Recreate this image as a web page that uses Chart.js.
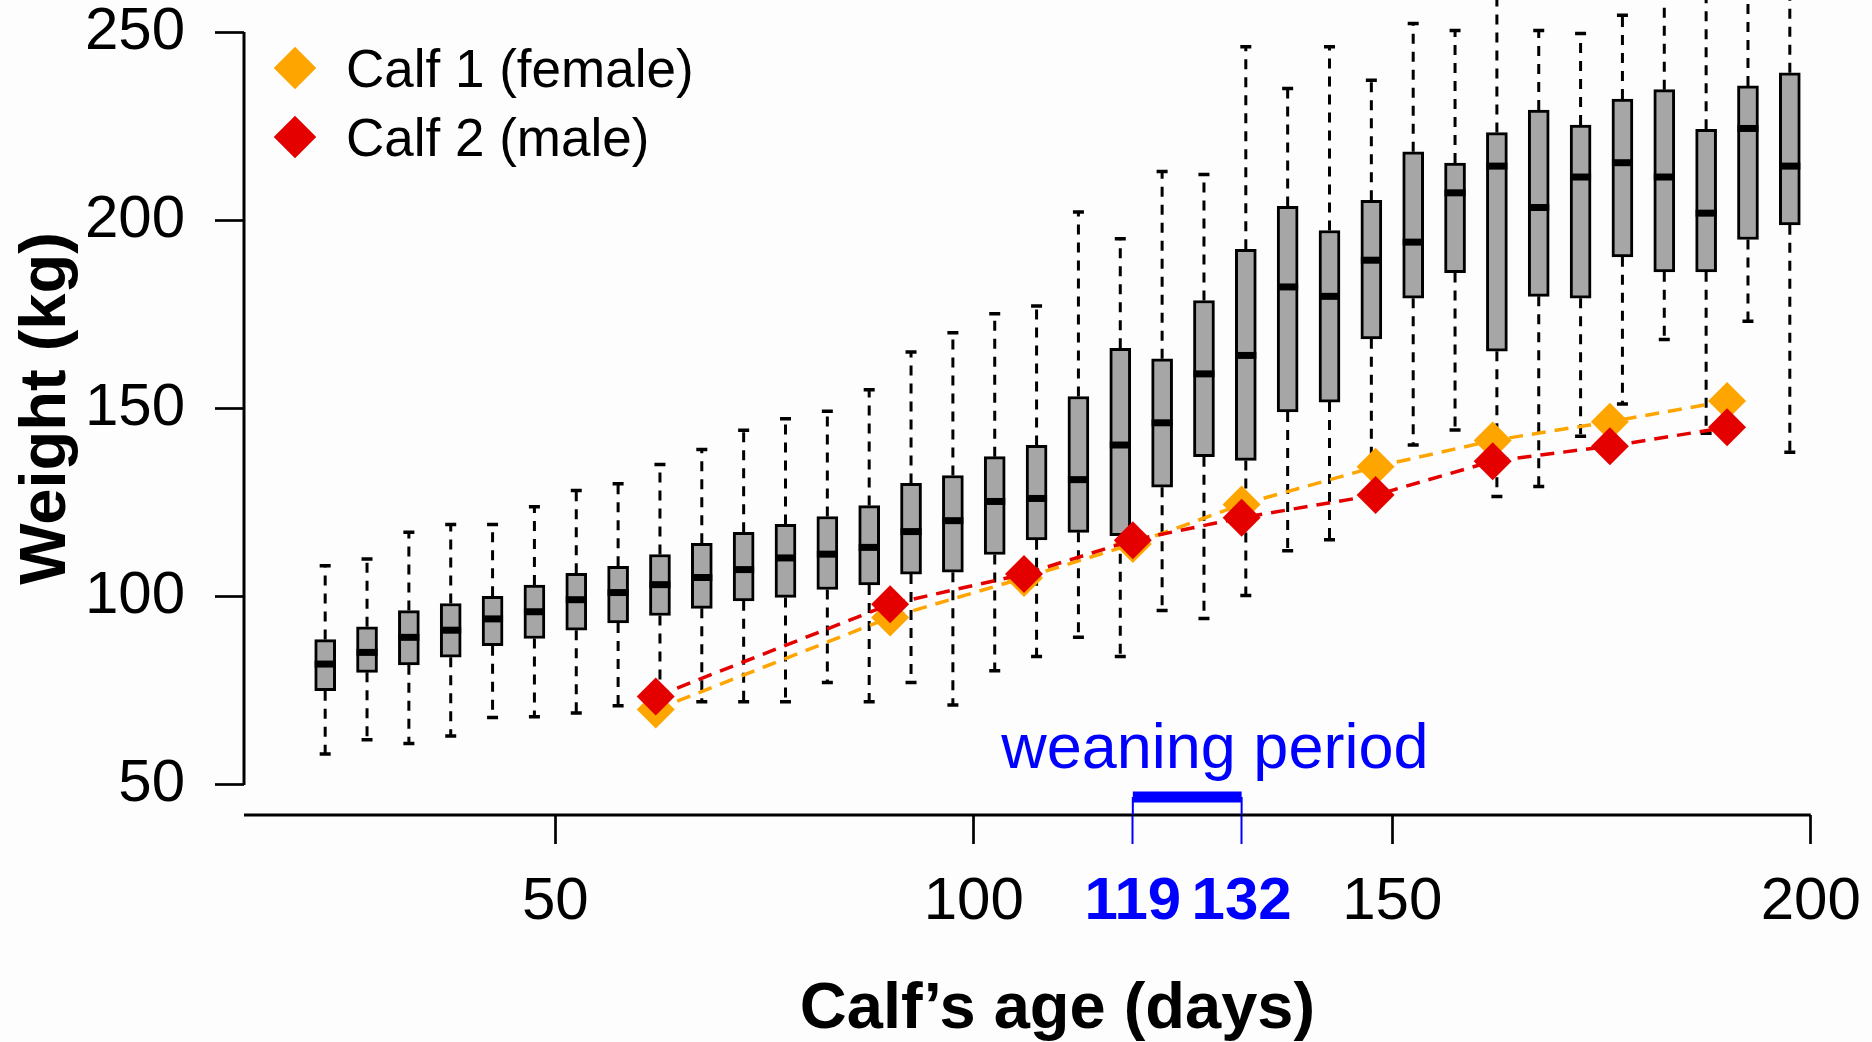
<!DOCTYPE html>
<html>
<head>
<meta charset="utf-8">
<title>Calf weight by age</title>
<script src="https://cdn.jsdelivr.net/npm/chart.js@4.4.1/dist/chart.umd.min.js"></script>
<style>
  html, body { margin: 0; padding: 0; background: #fdfdfd; }
  canvas { display: block; }
</style>
</head>
<body>
<canvas id="calfChart" width="1872" height="1042"></canvas>
<script>
// herd reference: weight distribution per 5-day age class
const ageDays = [22.5, 27.5, 32.5, 37.5, 42.5, 47.5, 52.5, 57.5, 62.5, 67.5, 72.5, 77.5,
                 82.5, 87.5, 92.5, 97.5, 102.5, 107.5, 112.5, 117.5, 122.5, 127.5, 132.5, 137.5,
                 142.5, 147.5, 152.5, 157.5, 162.5, 167.5, 172.5, 177.5, 182.5, 187.5, 192.5, 197.5];
const whiskerLow = [58.2, 62.0, 61.0, 63.0, 67.9, 68.1, 69.1, 71.0, 71.5, 72.1, 72.1, 72.1,
                    77.2, 72.1, 77.2, 71.2, 80.3, 84.1, 89.2, 84.1, 96.3, 94.2, 100.3, 112.2,
                    115.1, 133.0, 140.3, 144.3, 126.6, 129.3, 142.6, 151.2, 168.3, 143.4, 173.2, 138.4];
const q1 = [75.0, 79.9, 81.9, 83.9, 87.0, 88.9, 91.1, 93.0, 95.0, 96.9, 98.9, 99.8,
            101.9, 103.1, 106.0, 106.5, 111.2, 115.1, 117.1, 116.2, 129.1, 137.2, 136.2, 149.1,
            151.7, 168.5, 179.3, 186.1, 165.2, 179.8, 179.3, 190.3, 186.3, 186.3, 194.9, 198.8];
const median = [82.1, 85.2, 89.2, 91.1, 94.1, 96.0, 99.2, 101.1, 103.2, 105.1, 107.2, 110.3,
                111.3, 113.1, 117.3, 120.2, 125.3, 126.1, 131.1, 140.3, 146.2, 159.2, 164.1, 182.3,
                179.8, 189.4, 194.2, 207.3, 214.4, 203.4, 211.5, 215.3, 211.5, 201.9, 224.4, 214.4];
const q3 = [88.6, 92.0, 96.3, 98.2, 100.1, 103.1, 106.2, 108.1, 111.2, 114.2, 117.1, 119.2,
            121.3, 124.2, 130.1, 132.2, 137.2, 140.2, 153.2, 166.0, 163.2, 178.7, 192.3, 203.7,
            197.3, 205.3, 218.2, 215.2, 223.3, 229.3, 225.3, 232.2, 234.7, 224.2, 235.7, 239.2];
const whiskerHigh = [108.2, 110.0, 117.1, 119.2, 119.2, 123.9, 128.2, 130.0, 135.1, 139.1, 144.2, 147.3,
                     149.3, 155.0, 165.0, 170.1, 175.2, 177.2, 202.2, 195.1, 213.0, 212.2, 246.1, 235.0,
                     246.1, 237.2, 252.3, 250.4, 262.0, 250.4, 249.6, 254.5, 264.0, 262.0, 266.0, 268.0];

// the two followed calves
const calfDays = [62, 90, 106, 119, 132, 148, 162, 176, 190];
const calf1Weight = [70.0, 94.5, 105.0, 114.0, 124.5, 134.5, 141.5, 146.5, 152.0];
const calf2Weight = [73.5, 98.0, 106.0, 115.0, 121.0, 127.0, 136.0, 140.0, 145.0];
const calfNames = ['Calf 1 (female)', 'Calf 2 (male)'];

const xTicks = [50, 100, 119, 132, 150, 200];
const yTicks = [50, 100, 150, 200, 250];
const weaningDays = [119, 132];
const weaningLabel = 'weaning period';

const FONT = "'Liberation Sans', Arial, Helvetica, sans-serif";
const BLUE = '#0000ff';
const ORANGE = '#ffa500';
const RED = '#e50000';

// scriptable options also get called without a tick, so guard for that
const isWeaningTick = ctx => !!ctx.tick && weaningDays.includes(ctx.tick.value);

// whiskers + staples go under everything, medians right after the boxes
const boxWhiskers = {
  id: 'boxWhiskers',
  beforeDatasetsDraw(chart) {
    const { ctx, scales: { x, y } } = chart;
    ctx.save();
    ctx.strokeStyle = '#000';
    ageDays.forEach((d, i) => {
      const px = x.getPixelForValue(d);
      ctx.lineWidth = 3;
      ctx.setLineDash([10, 8]);
      ctx.beginPath();
      ctx.moveTo(px, y.getPixelForValue(q3[i]));
      ctx.lineTo(px, y.getPixelForValue(whiskerHigh[i]));
      ctx.stroke();
      ctx.beginPath();
      ctx.moveTo(px, y.getPixelForValue(q1[i]));
      ctx.lineTo(px, y.getPixelForValue(whiskerLow[i]));
      ctx.stroke();
      ctx.setLineDash([]);
      ctx.lineWidth = 3.5;
      ctx.beginPath();
      [whiskerHigh[i], whiskerLow[i]].forEach(v => {
        const py = y.getPixelForValue(v);
        ctx.moveTo(px - 5.5, py);
        ctx.lineTo(px + 5.5, py);
      });
      ctx.stroke();
    });
    ctx.restore();
  },
  afterDatasetDraw(chart, args) {
    if (args.meta.type !== 'bar') return;
    const { ctx, scales: { x, y } } = chart;
    ctx.save();
    ctx.strokeStyle = '#000';
    ctx.lineWidth = 7;
    ageDays.forEach((d, i) => {
      const px = x.getPixelForValue(d);
      const py = y.getPixelForValue(median[i]);
      ctx.beginPath();
      ctx.moveTo(px - 10.5, py);
      ctx.lineTo(px + 10.5, py);
      ctx.stroke();
    });
    ctx.restore();
  }
};

// axis lines, titles, legend and the weaning label
const decorations = {
  id: 'decorations',
  afterDraw(chart) {
    const { ctx, chartArea, scales: { x, y } } = chart;
    ctx.save();

    ctx.strokeStyle = '#000';
    ctx.lineWidth = 3;
    ctx.beginPath();
    ctx.moveTo(chartArea.left, y.getPixelForValue(yTicks[0]));
    ctx.lineTo(chartArea.left, y.getPixelForValue(yTicks[yTicks.length - 1]));
    ctx.moveTo(chartArea.left, chartArea.bottom);
    ctx.lineTo(x.getPixelForValue(200), chartArea.bottom);
    ctx.stroke();

    // blue drop lines from the weaning bar to the axis
    ctx.strokeStyle = BLUE;
    ctx.lineWidth = 2;
    ctx.beginPath();
    weaningDays.forEach(d => {
      const px = x.getPixelForValue(d);
      ctx.moveTo(px, y.getPixelForValue(46.8));
      ctx.lineTo(px, chartArea.bottom);
    });
    ctx.stroke();

    ctx.fillStyle = BLUE;
    ctx.font = `63px ${FONT}`;
    ctx.textAlign = 'center';
    ctx.textBaseline = 'alphabetic';
    ctx.fillText(weaningLabel, x.getPixelForValue(128.8), y.getPixelForValue(54.6));

    // axis titles
    ctx.fillStyle = '#000';
    ctx.font = `bold 65px ${FONT}`;
    ctx.fillText("Calf\u2019s age (days)", (chartArea.left + chartArea.right) / 2, 1028);
    ctx.save();
    ctx.translate(65, (y.getPixelForValue(50) + y.getPixelForValue(250)) / 2);
    ctx.rotate(-Math.PI / 2);
    ctx.fillText('Weight (kg)', 0, 0);
    ctx.restore();

    // legend
    ctx.font = `53px ${FONT}`;
    ctx.textAlign = 'left';
    [ORANGE, RED].forEach((c, i) => {
      const cy = 68 + i * 69;
      ctx.fillStyle = c;
      Chart.helpers.drawPoint(ctx, { pointStyle: 'rectRot', radius: 21, borderWidth: 0 }, 295, cy);
      ctx.fill();
      ctx.fillStyle = '#000';
      ctx.fillText(calfNames[i], 346, cy + 19);
    });

    ctx.restore();
  }
};

const calfSeries = (weights, color, order, label) => ({
  type: 'line',
  label,
  order,
  data: calfDays.map((d, i) => ({ x: d, y: weights[i] })),
  borderColor: color,
  borderWidth: 3.5,
  borderDash: [14, 9],
  tension: 0,
  pointStyle: 'rectRot',
  pointRadius: 19,
  pointBackgroundColor: color,
  pointBorderWidth: 0
});

new Chart(document.getElementById('calfChart'), {
  type: 'bar',
  data: {
    datasets: [
      {
        type: 'bar',
        label: 'herd',
        order: 2,
        data: ageDays.map((d, i) => ({ x: d, y: [q1[i], q3[i]] })),
        backgroundColor: '#a6a6a6',
        borderColor: '#000',
        borderWidth: 3,
        borderSkipped: false,
        barThickness: 21
      },
      calfSeries(calf1Weight, ORANGE, 1, calfNames[0]),
      calfSeries(calf2Weight, RED, 0, calfNames[1]),
      {
        type: 'line',
        label: weaningLabel,
        order: 3,
        data: weaningDays.map(d => ({ x: d, y: 46.8 })),
        borderColor: BLUE,
        borderWidth: 11,
        borderCapStyle: 'butt',
        pointRadius: 0
      }
    ]
  },
  options: {
    responsive: false,
    animation: false,
    devicePixelRatio: 1,
    layout: { autoPadding: false, padding: { top: 2, right: 1, left: 0, bottom: 0 } },
    plugins: {
      legend: { display: false },
      tooltip: { enabled: false }
    },
    scales: {
      x: {
        type: 'linear',
        min: 12.8,
        max: 207.2,
        offset: false,
        afterBuildTicks: s => { s.ticks = xTicks.map(v => ({ value: v })); },
        afterFit: s => {
          s.height = 227;
          s.paddingLeft = 0;
          s.paddingRight = 0;
        },
        border: { display: false },
        grid: {
          offset: false,
          drawOnChartArea: false,
          tickLength: 29,
          tickWidth: ctx => isWeaningTick(ctx) ? 2 : 2.7,
          tickColor: ctx => isWeaningTick(ctx) ? BLUE : '#000'
        },
        ticks: {
          autoSkip: false,
          maxRotation: 0,
          minRotation: 0,
          padding: 28,
          color: ctx => isWeaningTick(ctx) ? BLUE : '#000',
          font: ctx => ({
            family: FONT,
            size: 60,
            weight: isWeaningTick(ctx) ? 'bold' : 'normal',
            lineHeight: 1
          })
        }
      },
      y: {
        type: 'linear',
        min: 42,
        max: 258,
        afterBuildTicks: s => { s.ticks = yTicks.map(v => ({ value: v })); },
        afterFit: s => {
          s.width = 244;
          s.paddingTop = 0;
          s.paddingBottom = 0;
        },
        border: { display: false },
        grid: {
          drawOnChartArea: false,
          tickLength: 29,
          tickWidth: 2.7,
          tickColor: '#000'
        },
        ticks: {
          padding: 30,
          color: '#000',
          font: { family: FONT, size: 60, lineHeight: 1 }
        }
      }
    }
  },
  plugins: [boxWhiskers, decorations]
});
</script>
</body>
</html>
